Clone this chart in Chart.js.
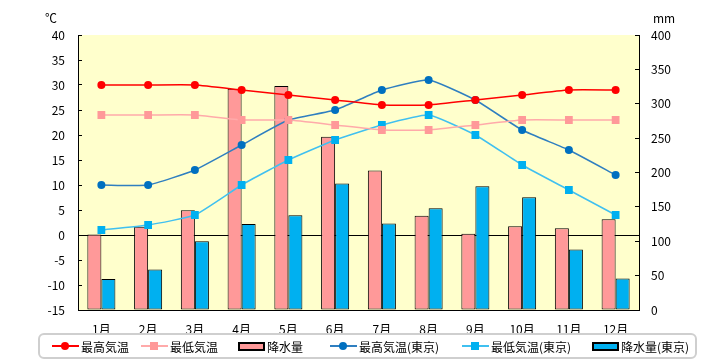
<!DOCTYPE html>
<html>
<head>
<meta charset="utf-8">
<script src="https://cdn.jsdelivr.net/npm/chart.js@4"></script>
<style>
  body { margin: 0; background: #fff; }
  #wrap { position: relative; width: 720px; height: 360px; font-family: "Liberation Sans Narrow", "Noto Sans CJK JP", sans-serif; }
  #chart { position: absolute; left: 0; top: 0; }
  .unit { position: absolute; top: 9px; font-size: 12px; color: #000; }
  #legend {
    position: absolute; left: 38px; top: 333px; width: 655px; height: 22px;
    border: 2px solid #cfcfcf; border-radius: 6px;
    font-family: "Noto Sans CJK JP", sans-serif; font-size: 12px;
  }
  .item { position: absolute; top: 0; height: 22px; display: flex; align-items: center; white-space: nowrap; }
  .sym { position: relative; width: 27px; height: 10px; margin-right: 2px; }
  .sym .ln { position: absolute; left: 0; right: 0; top: 4px; height: 1.5px; }
  .sym .dot { position: absolute; left: 9px; top: 1px; width: 8px; height: 8px; border-radius: 50%; }
  .sym .sq { position: absolute; left: 9px; top: 1px; width: 8px; height: 8px; }
  .sym .box { position: absolute; left: 0; top: 1px; width: 23px; height: 5px; border: 2px solid #000; }
</style>
</head>
<body>
<div id="wrap">
  <canvas id="chart" width="720" height="360"></canvas>
  <div class="unit" style="left:45px">℃</div>
  <div class="unit" style="left:653px">mm</div>
  <div id="legend"></div>
</div>
<script>
const months = ['1月', '2月', '3月', '4月', '5月', '6月', '7月', '8月', '9月', '10月', '11月', '12月'];

const maxTemp = [30, 30, 30, 29, 28, 27, 26, 26, 27, 28, 29, 29];
const minTemp = [24, 24, 24, 23, 23, 22, 21, 21, 22, 23, 23, 23];
const rain = [110, 121, 145, 322, 326, 252, 203, 137, 111, 122, 119, 132];

const maxTempTokyo = [10, 10, 13, 18, 23, 25, 29, 31, 27, 21, 17, 12];
const minTempTokyo = [1, 2, 4, 10, 15, 19, 22, 24, 20, 14, 9, 4];
const rainTokyo = [45, 59, 100, 125, 138, 184, 126, 148, 180, 164, 88, 46];

const tempTicks = { min: -15, max: 40, step: 5 };
const rainTicks = { min: 0, max: 400, step: 50 };

// legend item offsets inside the legend box (px)
const legendOffsets = [12, 101, 198, 290, 422, 552];

const plotBg = {
  id: 'plotBg',
  beforeDraw(chart) {
    const { ctx, chartArea: a } = chart;
    ctx.save();
    ctx.fillStyle = '#ffffcc';
    ctx.fillRect(a.left, a.top, a.right - a.left, a.bottom - a.top);
    ctx.restore();
  }
};

function lineSet(label, data, color, lineColor, style, radius) {
  return {
    type: 'line', label: label, data: data, yAxisID: 'y', order: 0,
    borderColor: lineColor, backgroundColor: color, borderWidth: 1.5,
    pointStyle: style, pointRadius: radius, pointBorderWidth: 0,
    pointBackgroundColor: color, tension: 0.15
  };
}

function barSet(label, data, color) {
  return {
    type: 'bar', label: label, data: data, yAxisID: 'y1', order: 1,
    backgroundColor: color, borderColor: '#000', borderWidth: 1, borderSkipped: false,
    categoryPercentage: 0.6, barPercentage: 1
  };
}

const datasets = [
  lineSet('最高気温', maxTemp, '#ff0000', '#ff0000', 'circle', 4),
  lineSet('最低気温', minTemp, '#ff9999', '#ffaaaa', 'rect', 5.5),
  barSet('降水量', rain, '#ff9999'),
  lineSet('最高気温(東京)', maxTempTokyo, '#0070c0', '#2f7fc0', 'circle', 4),
  lineSet('最低気温(東京)', minTempTokyo, '#00b0f0', '#40c0f0', 'rect', 5.5),
  barSet('降水量(東京)', rainTokyo, '#00b0f0')
];

const tickFont = { family: '"Liberation Sans Narrow", "Noto Sans CJK JP", sans-serif', size: 12 };

new Chart(document.getElementById('chart'), {
  data: { labels: months, datasets: datasets },
  plugins: [plotBg],
  options: {
    responsive: false,
    animation: false,
    layout: { padding: { top: 35, left: 0, right: 0, bottom: 0 } },
    plugins: { legend: { display: false }, tooltip: { enabled: false } },
    scales: {
      x: {
        grid: { display: false },
        border: { color: '#000', width: 1 },
        ticks: { color: '#000', font: { family: '"Noto Sans CJK JP", sans-serif', size: 12 }, padding: 4 },
        afterFit(scale) { scale.height = 50; }
      },
      y: {
        position: 'left',
        min: tempTicks.min, max: tempTicks.max,
        ticks: { stepSize: tempTicks.step, color: '#000', font: tickFont, padding: 17 },
        grid: {
          color: (c) => (c.tick && c.tick.value === 0 ? '#000' : 'rgba(0,0,0,0)'),
          tickColor: '#000', tickLength: -4, lineWidth: 1
        },
        border: { color: '#000', width: 1 },
        afterFit(scale) { scale.width = 78; }
      },
      y1: {
        position: 'right',
        min: rainTicks.min, max: rainTicks.max,
        ticks: { stepSize: rainTicks.step, color: '#000', font: tickFont, padding: 16 },
        grid: { drawOnChartArea: false, tickColor: '#000', tickLength: -4 },
        border: { color: '#000', width: 1 },
        afterFit(scale) { scale.width = 81; }
      }
    }
  }
});

// legend built from the datasets
const legend = document.getElementById('legend');
datasets.forEach((ds, i) => {
  const item = document.createElement('span');
  item.className = 'item';
  item.style.left = legendOffsets[i] + 'px';
  let sym;
  if (ds.type === 'bar') {
    sym = `<span class="sym"><span class="box" style="background:${ds.backgroundColor}"></span></span>`;
  } else {
    const mark = ds.pointStyle === 'circle' ? 'dot' : 'sq';
    sym = `<span class="sym"><span class="ln" style="background:${ds.borderColor}"></span>` +
      `<span class="${mark}" style="background:${ds.pointBackgroundColor}"></span></span>`;
  }
  item.innerHTML = sym + ds.label;
  legend.appendChild(item);
});
</script>
</body>
</html>
